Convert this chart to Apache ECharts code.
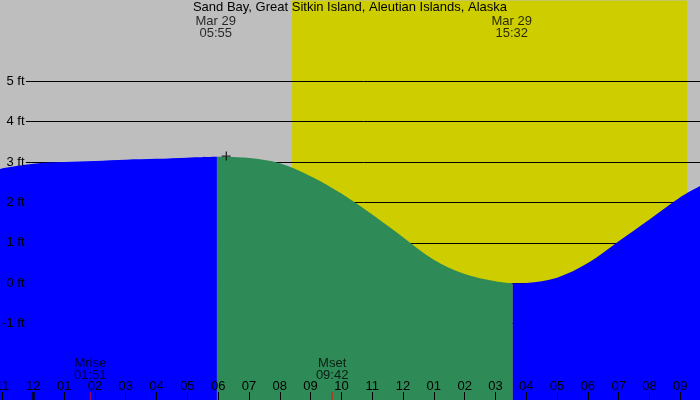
<!DOCTYPE html>
<html>
<head>
<meta charset="utf-8">
<script src="https://cdn.jsdelivr.net/npm/echarts@6/dist/echarts.min.js"></script>
<style>html,body{margin:0;padding:0;background:#BEBEBE;}#c{width:700px;height:400px;}</style>
</head>
<body>
<div id="c"></div>
<script>
// ---- data (hours since midnight Mar 29, heights in ft) ----
const title = 'Sand Bay, Great Sitkin Island, Aleutian Islands, Alaska';
const tideHours   = [-1.1, -1, 0, 1, 2, 3, 4, 5, 5.96, 7, 8, 9, 10, 11, 12, 13, 14, 15, 15.56, 16, 17, 18, 19, 20, 21, 21.7];
const tideHeights = [2.82, 2.85, 2.96, 3.00, 3.03, 3.06, 3.08, 3.11, 3.13, 3.10, 2.97, 2.65, 2.22, 1.70, 1.14, 0.58, 0.23, 0.05, 0.00, 0.01, 0.14, 0.50, 1.04, 1.58, 2.13, 2.43];
const turnHours   = [5.96, 15.56];
const eventHours  = [5.92, 15.53];
const eventDates  = ['Mar 29', 'Mar 29'];
const eventTimes  = ['05:55', '15:32'];
const daylight    = [8.40, 21.22];
const moonHours   = [1.85, 9.70];
const moonNames   = ['Mrise', 'Mset'];
const moonTimes   = ['01:51', '09:42'];
const midnightHours = [0];
const nowMarker   = [[6.26, 3.15]];
const gridFeet    = [-1, 0, 1, 2, 3, 4, 5];

const FONT = "'Liberation Sans', Arial, sans-serif";
const yMin = -3, yMax = 7;

const pts = tideHours.map((h, i) => [h, tideHeights[i]]);
const rise1 = pts.filter(p => p[0] <= turnHours[0]);
const fall  = pts.filter(p => p[0] >= turnHours[0] && p[0] <= turnHours[1]);
const rise2 = pts.filter(p => p[0] >= turnHours[1]);

function pad(n){ return (n < 10 ? '0' : '') + n; }
function hourLabel(v){
  let h = ((Math.round(v) % 12) + 12) % 12;
  if (h === 0) h = 12;
  return pad(h);
}

const area = (data, color) => ({
  type: 'line', data, z: 5, smooth: 0.35, symbol: 'none', silent: true,
  lineStyle: { width: 0 }, areaStyle: { color, opacity: 1, origin: 'start' }
});

const chart = echarts.init(document.getElementById('c'));
chart.setOption({
  backgroundColor: '#BEBEBE',
  animation: false,
  title: { text: title, left: 'center', top: 1, padding: 0, textStyle: { fontFamily: FONT, fontSize: 13, fontWeight: 'normal', color: '#000', lineHeight: 13 } },
  grid: { left: -28.3, right: -11.1, top: 0.5, bottom: -4.5, containLabel: false, outerBoundsMode: 'none' },
  xAxis: {
    type: 'value', min: -2, max: 22, interval: 1, z: 10,
    axisLine: { show: false, onZero: false },
    axisTick: { show: true, inside: true, length: 12.5, lineStyle: { color: '#000', width: 1 } },
    axisLabel: { inside: true, margin: 18, verticalAlign: 'middle', color: '#000', fontFamily: FONT, fontSize: 13, formatter: hourLabel },
    splitLine: { show: false }
  },
  yAxis: {
    type: 'value', min: yMin, max: yMax, interval: 1, z: 10,
    axisLine: { show: false }, axisTick: { show: false }, splitLine: { show: false },
    axisLabel: { inside: true, margin: 52.8, align: 'right', color: '#000', fontFamily: FONT, fontSize: 13,
      formatter: v => gridFeet.indexOf(v) >= 0 ? v + ' ft' : '' }
  },
  series: [
    { type: 'line', data: [], z: 1, silent: true,
      markArea: { z: 1, silent: true, itemStyle: { color: '#CDCD00' }, data: [[{ xAxis: daylight[0] }, { xAxis: daylight[1] }]] } },
    { type: 'line', data: [], z: 2, silent: true,
      markLine: { z: 2, silent: true, symbol: 'none', label: { show: false }, lineStyle: { color: '#000', width: 1, type: 'solid' },
        data: gridFeet.map(v => [{ coord: [-0.24, v] }, { coord: [22, v] }]) } },
    area(rise1, '#0000FF'),
    area(fall, '#2E8B57'),
    area(rise2, '#0000FF'),
    { type: 'scatter', z: 11, clip: false, silent: true, symbol: 'rect', symbolSize: [3, 25],
      itemStyle: { color: '#000' }, data: midnightHours.map(h => [h, yMin]) },
    { type: 'scatter', z: 11, clip: false, silent: true, symbol: 'rect', symbolSize: [1, 25],
      itemStyle: { color: '#FF0000' }, data: moonHours.map(h => [h, yMin]),
      label: { show: true, position: 'inside', offset: [0, -35.5], color: '#000', fontFamily: FONT, fontSize: 13, lineHeight: 12, align: 'center',
        formatter: p => moonNames[p.dataIndex] + '\n' + moonTimes[p.dataIndex] } },
    { type: 'scatter', z: 11, clip: false, silent: true, symbolSize: 0, data: eventHours.map(h => [h, yMax]),
      label: { show: true, position: 'inside', offset: [0, 26.8], color: '#000', fontFamily: FONT, fontSize: 13, lineHeight: 12, align: 'center',
        formatter: p => eventDates[p.dataIndex] + '\n' + eventTimes[p.dataIndex] } },
    { type: 'scatter', z: 11, clip: false, silent: true, symbol: 'path://M0,4H9V5.3H0Z M4,0H5.3V9H4Z', symbolSize: 9,
      itemStyle: { color: '#000' }, data: nowMarker }
  ]
});
</script>
</body>
</html>
